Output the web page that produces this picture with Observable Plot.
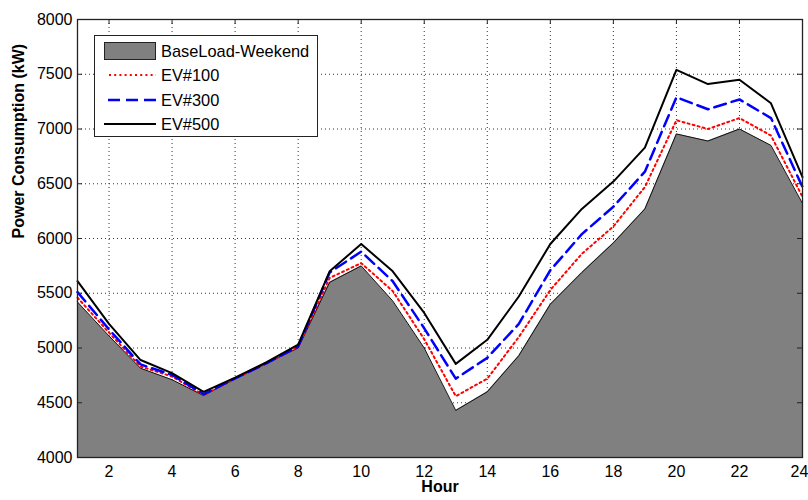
<!DOCTYPE html>
<html>
<head>
<meta charset="utf-8">
<script src="https://cdn.jsdelivr.net/npm/d3@7"></script>
<script src="https://cdn.jsdelivr.net/npm/@observablehq/plot@0.6"></script>
<style>
  html, body { margin: 0; padding: 0; background: #fff; }
  #wrap { position: relative; width: 808px; height: 500px; font-family: "Liberation Sans", Arial, sans-serif; }
  #legend { position: absolute; left: 94px; top: 35px; width: 224px; height: 102px; box-sizing: border-box;
            border: 1.3px solid #222; background: #fff; font-size: 16.4px; color: #000; }
  .row { position: absolute; left: 9px; height: 24px; display: flex; align-items: center; }
  .row svg { display: block; margin-right: 5px; }
</style>
</head>
<body>
<div id="wrap"><div id="legend"></div></div>
<script>
const hours = [1,2,3,4,5,6,7,8,9,10,11,12,13,14,15,16,17,18,19,20,21,22,23,24];
const baseLoad = [5420,5110,4815,4710,4565,4720,4860,5000,5600,5750,5430,5000,4430,4600,4930,5400,5690,5960,6270,6955,6890,7000,6850,6320];
const ev100 = [5460,5140,4830,4740,4570,4720,4860,5010,5640,5775,5520,5080,4560,4720,5100,5530,5860,6110,6470,7080,7000,7100,6940,6380];
const ev300 = [5510,5170,4850,4755,4578,4722,4862,5015,5690,5880,5610,5180,4720,4910,5220,5710,6040,6290,6610,7290,7180,7270,7100,6470];
const ev500 = [5610,5220,4890,4770,4600,4730,4870,5030,5700,5950,5700,5320,4855,5075,5470,5950,6270,6520,6830,7540,7410,7450,7235,6560];
const xTicks = [2,4,6,8,10,12,14,16,18,20,22,24];
const yTicks = [4000,4500,5000,5500,6000,6500,7000,7500,8000];
const seriesNames = ["BaseLoad-Weekend","EV#100","EV#300","EV#500"];

const rows = hours.map((h, i) => ({hour: h, base: baseLoad[i], ev100: ev100[i], ev300: ev300[i], ev500: ev500[i]}));

const W = 808, H = 500, mL = 77, mR = 6, mT = 19, mB = 43;
const innerW = W - mL - mR, innerH = H - mT - mB;
const tickLen = 5;
const lastTick = xTicks[xTicks.length - 1];

const chart = Plot.plot({
  width: W, height: H,
  marginLeft: mL, marginRight: mR, marginTop: mT, marginBottom: mB,
  style: {fontFamily: "'Liberation Sans', Arial, sans-serif", fontSize: "16px", background: "#fff", color: "#000"},
  x: {domain: [hours[0], hours[hours.length - 1]]},
  y: {domain: [yTicks[0], yTicks[yTicks.length - 1]]},
  marks: [
    Plot.ruleX(xTicks, {x: d => d, stroke: "#333", strokeDasharray: "1,3", strokeWidth: 1}),
    Plot.ruleY(yTicks, {y: d => d, stroke: "#333", strokeDasharray: "1,3", strokeWidth: 1}),
    Plot.areaY(rows, {x: "hour", y: "base", fill: "#808080", clip: true}),
    Plot.lineY(rows, {x: "hour", y: "base", stroke: "#111", strokeWidth: 1}),
    Plot.lineY(rows, {x: "hour", y: "ev100", stroke: "#ff0000", strokeWidth: 2, strokeDasharray: "2,3.2"}),
    Plot.lineY(rows, {x: "hour", y: "ev300", stroke: "#0000ff", strokeWidth: 2.5, strokeDasharray: "12,6"}),
    Plot.lineY(rows, {x: "hour", y: "ev500", stroke: "#000", strokeWidth: 2}),
    Plot.frame({stroke: "#222", strokeWidth: 1.3}),
    Plot.tickX(xTicks, {x: d => d, insetBottom: innerH - tickLen, stroke: "#222"}),
    Plot.tickY(yTicks, {y: d => d, insetRight: innerW - tickLen, stroke: "#222"}),
    Plot.tickY(yTicks, {y: d => d, insetLeft: innerW - tickLen, stroke: "#222"}),
    Plot.axisX(xTicks.filter(t => t !== lastTick), {tickSize: 0, tickPadding: 8, label: null, fontSize: 16, tickFormat: d => String(d)}),
    Plot.axisX([lastTick], {tickSize: 0, tickPadding: 8, label: null, fontSize: 16, dx: -3, tickFormat: d => String(d)}),
    Plot.axisY(yTicks, {tickSize: 0, tickPadding: 5, label: null, fontSize: 16, tickFormat: d => String(d)}),
    Plot.text(["Hour"], {frameAnchor: "bottom", dy: 34, fontWeight: "bold", fontSize: 16}),
    Plot.text(["Power Consumption (kW)"], {frameAnchor: "left", dx: -59, rotate: -90, fontWeight: "bold", fontSize: 16})
  ]
});
document.getElementById("wrap").prepend(chart);

// legend
const swatches = [
  `<svg width="52" height="18"><rect x="0.5" y="0.5" width="51" height="17" fill="#808080" stroke="#222" stroke-width="1"/></svg>`,
  `<svg width="52" height="18"><line x1="5" x2="52" y1="9" y2="9" stroke="#ff0000" stroke-width="2" stroke-dasharray="2,3.2"/></svg>`,
  `<svg width="52" height="18"><line x1="4" x2="52" y1="9" y2="9" stroke="#0000ff" stroke-width="2.5" stroke-dasharray="12,6"/></svg>`,
  `<svg width="52" height="18"><line x1="0" x2="52" y1="9" y2="9" stroke="#000" stroke-width="2"/></svg>`
];
const legend = document.getElementById("legend");
const rowTops = [3, 27, 52, 76];
seriesNames.forEach((name, i) => {
  const r = document.createElement("div");
  r.className = "row";
  r.style.top = rowTops[i] + "px";
  r.innerHTML = swatches[i] + `<span>${name}</span>`;
  legend.appendChild(r);
});
</script>
</body>
</html>
